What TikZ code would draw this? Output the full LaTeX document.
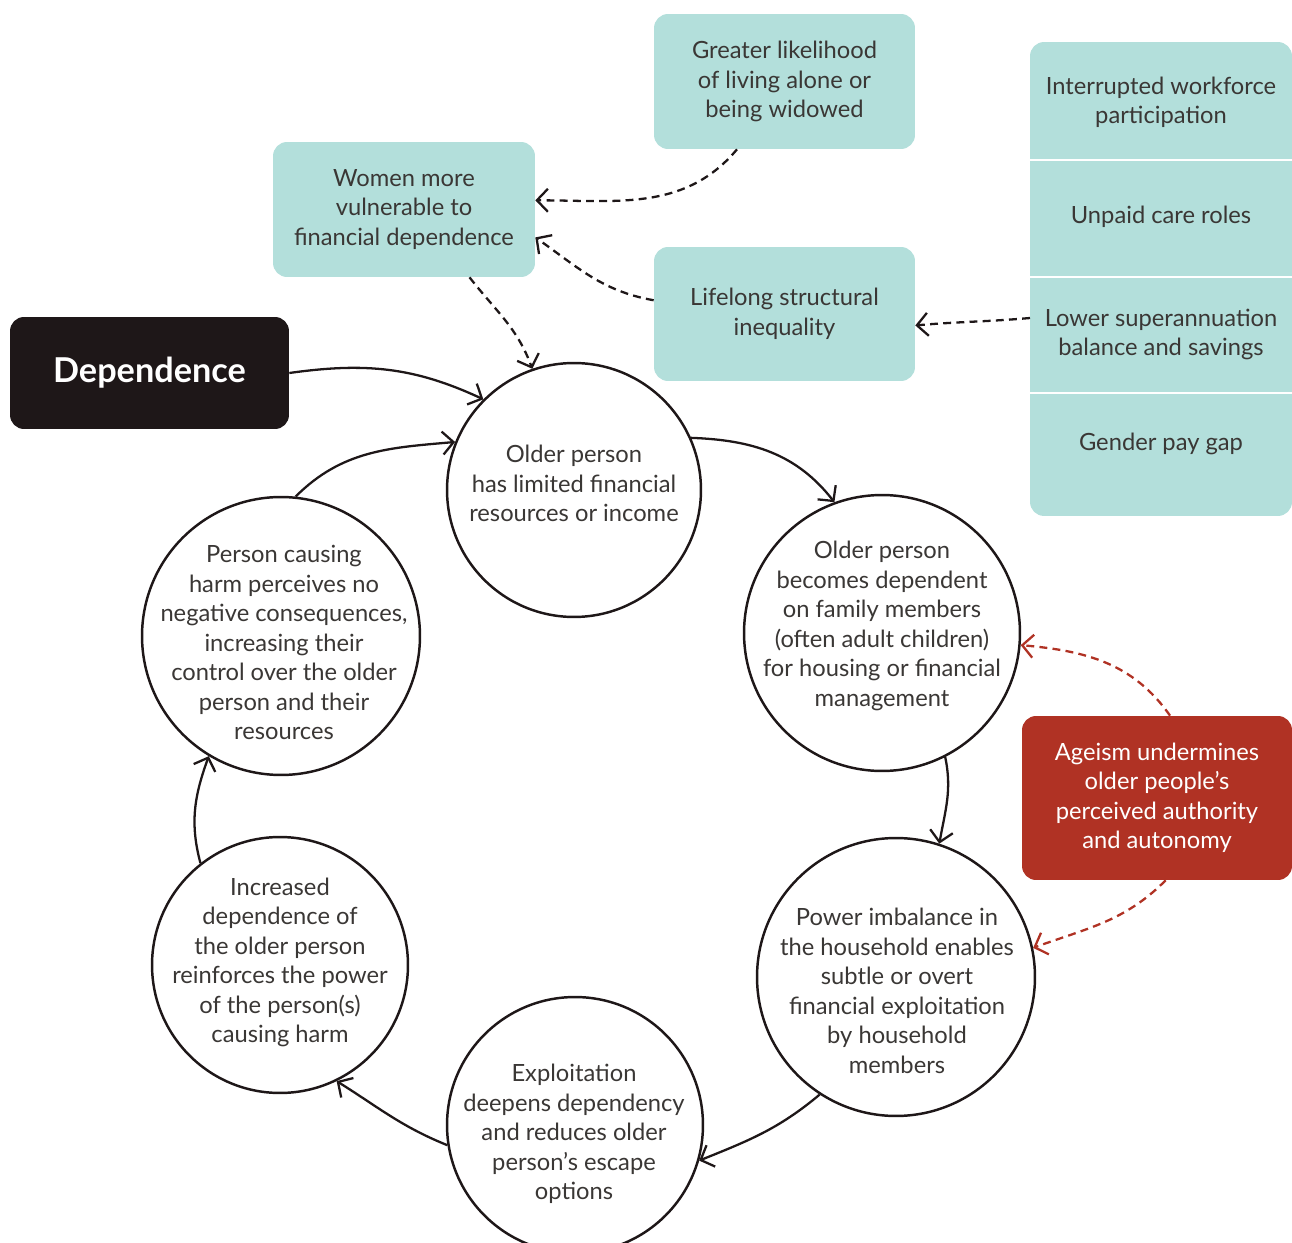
\documentclass[tikz,border=0pt]{standalone}
\usepackage{fontspec}
\setmainfont{Lato}
\usetikzlibrary{arrows.meta}
\definecolor{teal}{HTML}{B3DFDB}
\definecolor{ink}{HTML}{3A3735}
\definecolor{rust}{HTML}{B03224}
\definecolor{night}{HTML}{1E1718}
\begin{document}
\begin{tikzpicture}[x=0.02cm,y=-0.02cm,
  txt/.style={font=\fontsize{13.5}{16.8}\selectfont, text=ink, align=center},
  cyc/.style={circle, draw=night, line width=1.4pt, fill=white, inner sep=0pt, minimum size=#1},
  tbox/.style={txt, rounded corners=0.28cm, fill=teal, inner sep=0pt},
  flow/.style={draw=night, line width=1.3pt, -{Straight Barb[length=2.2mm,width=4.6mm,line width=1.3pt]}},
  hint/.style={flow, dash pattern=on 4.5pt off 3pt},
  rhint/.style={hint, draw=rust, -{Straight Barb[length=2.2mm,width=4.6mm,line width=1.3pt,color=rust]}}
]
\useasboundingbox (0,0) rectangle (1292,1243);

% cycle of circles
\node[cyc=5.08cm] (c1) at (574,490) {};
\node[cyc=5.52cm] (c2) at (882,633) {};
\node[cyc=5.56cm] (c3) at (896,977) {};
\node[cyc=5.12cm] (c4) at (575,1125) {};
\node[cyc=5.12cm] (c5) at (280,965) {};
\node[cyc=5.56cm] (c6) at (281,636) {};

% circle texts
\node[txt] (c1t) at (574,483.5) {Older person\\has limited financial\\resources or income};
\node[txt] (c2t) at (882,626) {Older person\\becomes dependent\\on family members\\(often adult children)\\for housing or financial\\management};
\node[txt] (c3t) at (897,991) {Power imbalance in\\the household enables\\subtle or overt\\financial exploitation\\by household\\members};
\node[txt] (c4t) at (574,1134) {Exploitation\\deepens dependency\\and reduces older\\person’s escape\\options};
\node[txt] (c5t) at (280,962.5) {Increased\\dependence of\\the older person\\reinforces the power\\of the person(s)\\causing harm};
\node[txt] (c6t) at (284,642.5) {Person causing\\harm perceives no\\negative consequences,\\increasing their\\control over the older\\person and their\\resources};

% boxes
\node[rounded corners=0.28cm, fill=night, text=white, font=\fontsize{19.5}{22}\bfseries\selectfont,
  minimum width=5.58cm, minimum height=2.24cm] (dep) at (149.5,373) {Dependence};
\node[tbox, minimum width=5.22cm, minimum height=2.7cm] (greater) at (784.5,81.5) {Greater likelihood\\of living alone or\\being widowed};
\node[tbox, minimum width=5.24cm, minimum height=2.7cm] (women) at (404,209.5) {Women more\\vulnerable to\\financial dependence};
\node[tbox, minimum width=5.22cm, minimum height=2.68cm] (life) at (784.5,314) {Lifelong structural\\inequality};
\node[txt, rounded corners=0.28cm, fill=rust, text=white, inner sep=0pt,
  minimum width=5.4cm, minimum height=3.28cm] (age) at (1157,798) {Ageism undermines\\older people’s\\perceived authority\\and autonomy};

% panel of contributing factors
\node[rounded corners=0.28cm, fill=teal, minimum width=5.24cm, minimum height=9.48cm, inner sep=0pt] (panel) at (1161,279) {};
\draw[white, line width=1pt] (1030,160) -- (1292,160) (1030,277) -- (1292,277) (1030,393) -- (1292,393);
\node[txt] (work) at (1161,102.5) {Interrupted workforce\\participation};
\node[txt] (care) at (1161,217) {Unpaid care roles};
\node[txt] (low) at (1161,334.5) {Lower superannuation\\balance and savings};
\node[txt] (pay) at (1161,444) {Gender pay gap};
\coordinate (lowport) at (1030,318);

% cycle arrows
\draw[flow] (dep.east) to[out=8,in=155] (c1.135);
\draw[flow] (c6.84) to[out=45,in=185] (c1.158);
\draw[flow] (c1.24) to[out=-2,in=128] (c2.110);
\draw[flow] (c2.-63) to[out=-78,in=80] (c3.72);
\draw[flow] (c3.237) to[out=-140,in=22] (c4.-16);
\draw[flow] (c4.189) to[out=158,in=-32] (c5.-64);
\draw[flow] (c5.128) to[out=105,in=-110] (c6.239);

% influences
\draw[hint] (greater.-125) to[out=-130,in=0] (women.4);
\draw[hint] (life.174) to[out=170,in=-35] (women.-12);
\draw[hint] (women.-46) to[out=-52,in=110] (c1.109);
\draw[hint] (lowport) to[out=185,in=5] (life.-5);
\draw[rhint] (age.81) to[out=125,in=-5] (c2.-5);
\draw[rhint] (age.-84) to[out=-135,in=20] (c3.12);
\end{tikzpicture}
\end{document}
